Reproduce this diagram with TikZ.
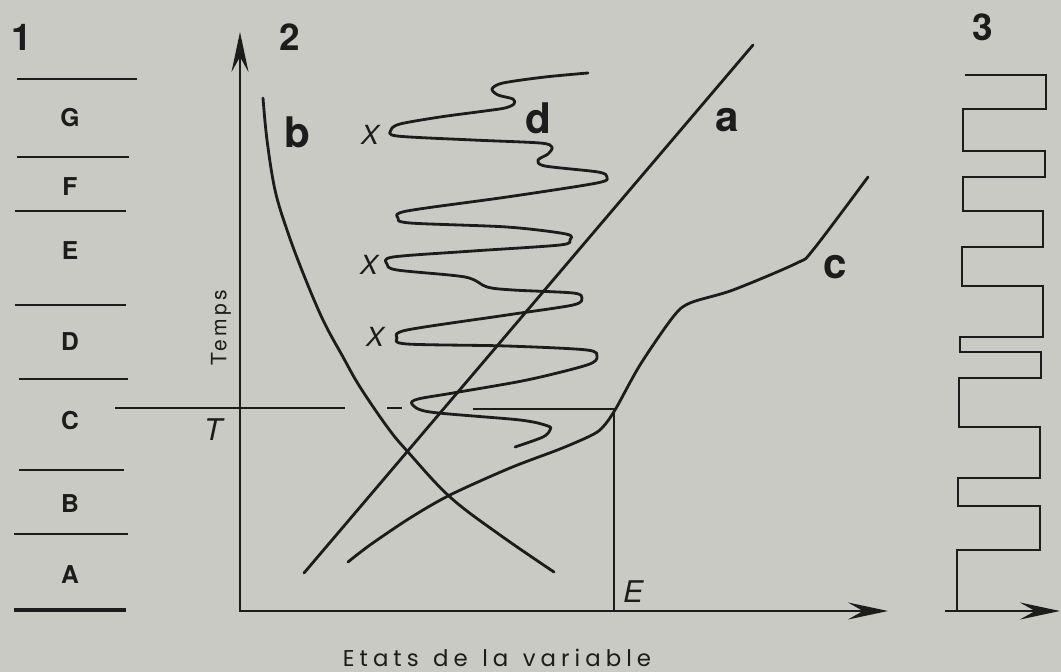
\documentclass[tikz,border=0pt]{standalone}
\usepackage{fontspec}
\setmainfont{TeX Gyre Heros}
\newfontfamily\spacedsans[LetterSpace=15]{TeX Gyre Heros}
\newfontfamily\axisfont[LetterSpace=22, WordSpace=1.3]{Poppins}
\usetikzlibrary{arrows.meta}
\definecolor{paper}{RGB}{202,202,197}
\definecolor{ink}{RGB}{28,28,28}

\begin{document}
\begin{tikzpicture}[x=0.02cm, y=-0.02cm, color=ink, line width=1.5pt,
  >={Stealth[length=0.8cm, width=0.34cm, inset=0.3cm]},
  curve/.style={line width=1.6pt, line join=round, line cap=round},
  sep/.style={line width=1.3pt},
  zone/.style={font=\fontsize{14}{14}\selectfont\bfseries},
  panel/.style={font=\fontsize{21}{21}\selectfont\bfseries},
  tag/.style={font=\fontsize{24}{24}\selectfont\bfseries},
  varlbl/.style={font=\fontsize{15}{15}\selectfont\itshape}]
  \fill[paper] (0,0) rectangle (1061,672);
  \useasboundingbox (0,0) rectangle (1061,672);

  % panel 1
  \node[panel] (num1) at (22,37) {1};
  \foreach \y/\a/\b in {79/17/137, 157/17/129, 211/15/126, 305/15/126, 379/19/128, 470/19/124, 534/14/128}
    \draw[sep] (\a,\y) -- (\b,\y);
  \draw[sep, line width=2.3pt] (14,610) -- (126,610);
  \foreach \n/\y in {G/118, F/187, E/251, D/342, C/421, B/504, A/575}
    \node[zone] (zone\n) at (70,\y) {\n};

  % panel 2
  \node[panel] (num2) at (290,37) {2};
  \coordinate (origin) at (240,611);
  \coordinate (ytop) at (240,32);
  \coordinate (xend) at (888,611);
  \draw[<->] (ytop) -- (origin) -- (xend);
  \node[rotate=90, font=\spacedsans\fontsize{12}{12}\selectfont] (timelbl) at (221,328) {Temps};
  \node[font=\axisfont\fontsize{13}{13}\selectfont] (statelbl) at (497,658) {Etats de la variable};

  \coordinate (tL) at (115,408);
  \coordinate (tM) at (345,408);
  \coordinate (tR) at (473,409);
  \coordinate (tE) at (614,409);
  \coordinate (eE) at (614,611);
  \draw (tL) -- (tM);
  \draw (387,408) -- (402,408);
  \draw (tR) -- (tE) -- (eE);
  \node[varlbl, font=\fontsize{17}{17}\selectfont\itshape] (tlbl) at (213,430) {T};
  \node[varlbl, font=\fontsize{17}{17}\selectfont\itshape] (elbl) at (633,592) {E};

  % a
  \coordinate (aS) at (304,573);
  \coordinate (aE) at (753,45);
  \draw[curve] (aS) -- (aE);
  \node[tag] (alab) at (727,120) {a};

  % b
  \draw[curve] plot[smooth, tension=0.6] coordinates {(263,98) (267,140) (275,190) (287,230) (303,273) (323,320) (343,357) (360,387) (388,428) (408,452) (450,497) (500,535) (554,572)};
  \node[tag] (blab) at (297,132) {b};

  % c
  \draw[curve] plot[smooth, tension=0.5] coordinates {(348,562) (370,545) (410,518) (450,495) (510,468) (560,449) (590,436) (602,428) (615,410) (640,365) (673,317) (690,303) (733,290) (797,263) (813,250) (868,177)};
  \node[tag] (clab) at (835,267) {c};

  % d
  \draw[curve] plot[smooth, tension=0.5] coordinates {(588,73) (545,77) (503,83) (492,89) (498,95) (513,99) (514,104) (505,108) (485,111) (440,117) (400,124) (391,130) (397,136) (473,140) (540,143) (552,147) (548,154) (538,160) (545,166) (598,172) (607,177) (597,183) (507,197) (407,211) (398,218) (410,223) (507,227) (566,234) (570,240) (560,245) (473,251) (393,257) (387,264) (397,270) (465,277) (487,287) (513,290) (573,293) (582,298) (573,305) (507,315) (407,330) (397,338) (407,344) (507,346) (587,350) (597,357) (587,365) (527,380) (453,393) (418,399) (412,404) (430,412) (520,420) (548,426) (550,430) (543,437) (515,447)};
  \node[tag] (dlab) at (538,118) {d};
  \node[varlbl] (x1) at (370,135) {X};
  \node[varlbl] (x2) at (369,265) {X};
  \node[varlbl] (x3) at (375,337) {X};

  % panel 3
  \node[panel] (num3) at (983,27) {3};
  \draw[line join=miter] (965,75) -- (1046,75) -- (1046,109) -- (963,109) -- (963,151) -- (1045,151) -- (1045,177) -- (963,177) -- (963,211) -- (1043,211) -- (1043,247) -- (962,247) -- (962,286) -- (1043,286) -- (1043,337) -- (960,337) -- (960,352) -- (1041,352) -- (1041,378) -- (959,378) -- (959,427) -- (1040,427) -- (1040,478) -- (958,478) -- (958,506) -- (1040,506) -- (1040,550) -- (957,550) -- (957,611);
  \coordinate (s3) at (945,611);
  \coordinate (e3) at (1060,611);
  \draw[->] (s3) -- (e3);
\end{tikzpicture}
\end{document}
